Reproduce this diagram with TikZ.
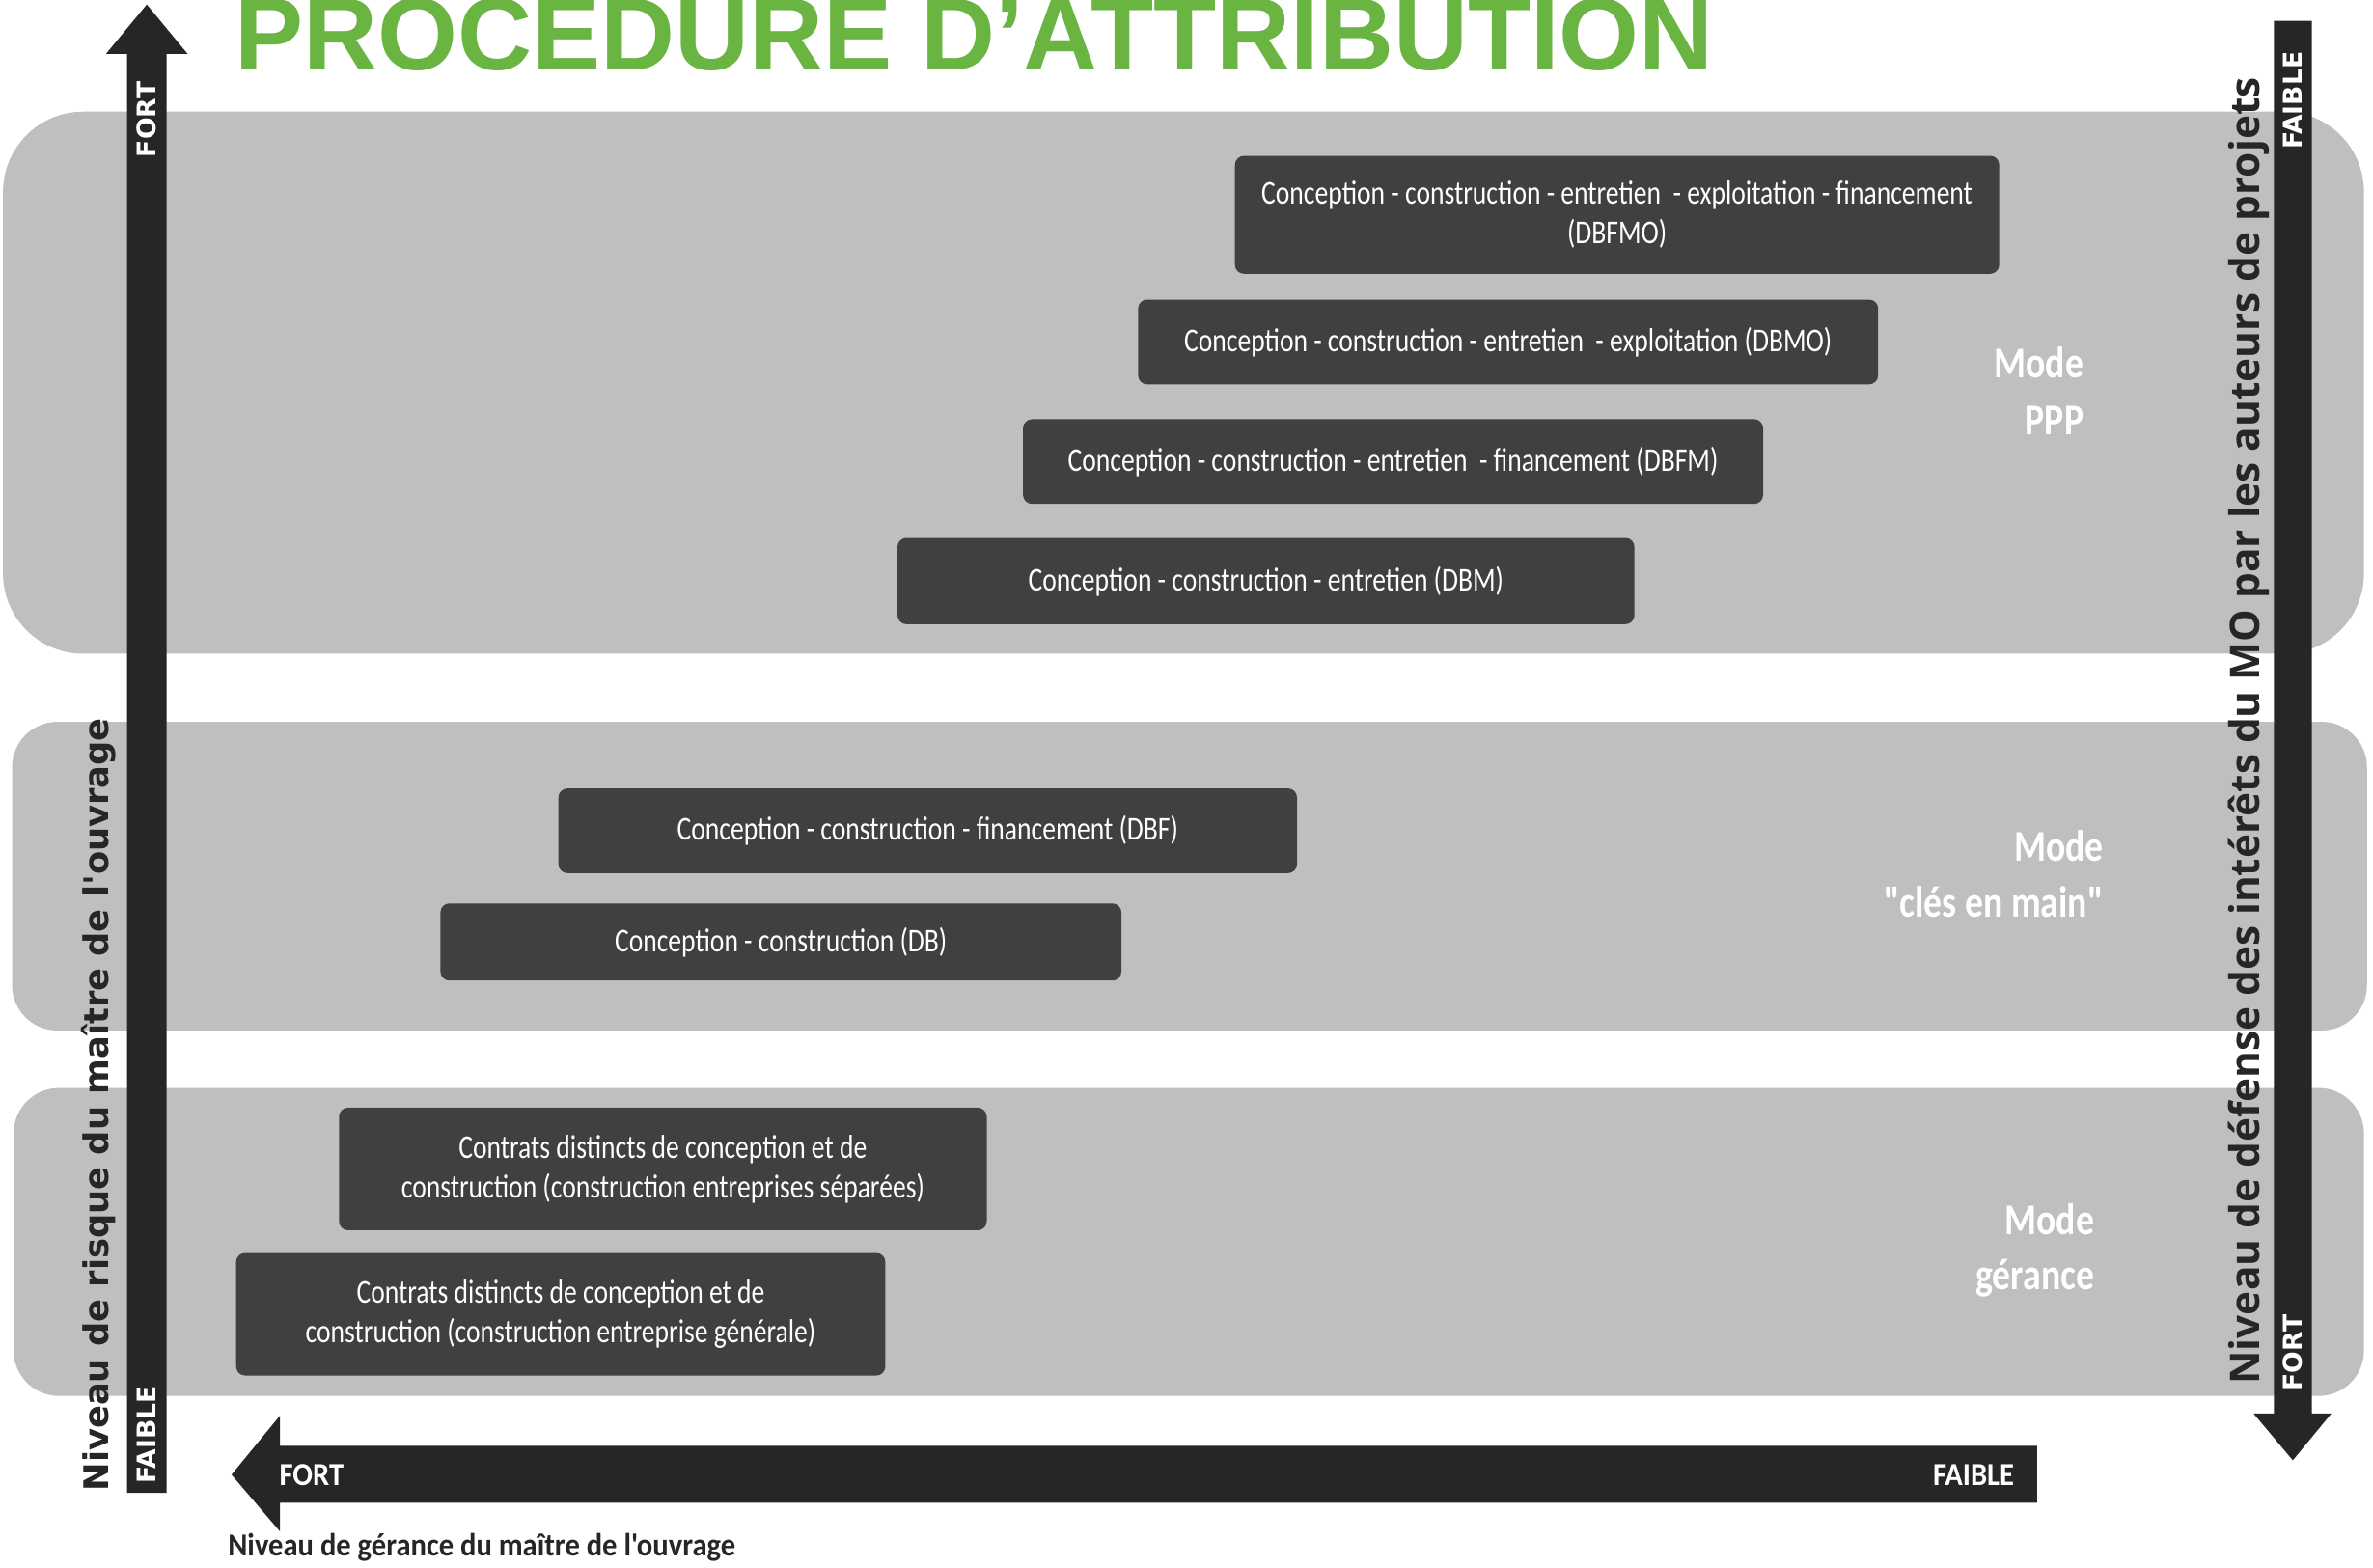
\documentclass[tikz,border=0pt]{standalone}
\usepackage{fontspec}
\newfontfamily\titlefont{Liberation Sans}
\newfontfamily\boxfont[FakeStretch=0.8]{Carlito}
\newfontfamily\modefont[FakeStretch=0.83]{Carlito}
\newfontfamily\axfont[FakeStretch=0.92,Ligatures=TeXOff]{Carlito}
\newfontfamily\vfont[WordSpace=2,Ligatures=TeXOff]{DejaVu Sans}
\newfontfamily\shaftfont{DejaVu Sans}
\newfontfamily\rfont{Open Sans}
\definecolor{bandc}{HTML}{BFBFBF}
\definecolor{boxc}{HTML}{404040}
\definecolor{arr}{HTML}{262626}
\definecolor{titleg}{RGB}{106,181,66}
\tikzset{
  band/.style={fill=bandc},
  bx/.style={fill=boxc, rounded corners=6pt, text=white, align=center, inner sep=0pt,
    font=\boxfont\fontsize{22}{26}\selectfont},
  shaftlbl/.style={text=white, rotate=90, inner sep=0pt,
    font=\shaftfont\bfseries\fontsize{17}{17}\selectfont},
  modelbl/.style={text=white, anchor=base east, inner sep=0pt,
    font=\modefont\bfseries\fontsize{29}{29}\selectfont},
  axlbl/.style={inner sep=0pt, font=\axfont\bfseries\fontsize{21.2}{21.2}\selectfont},
  arrowshape/.style={fill=arr},
}
\begin{document}
\begin{tikzpicture}[x=1pt,y=-1pt]
\useasboundingbox (0,0) rectangle (1568,1036);
% bands
\fill[band, rounded corners=53pt] (2,73.8) rectangle (1562,432);
\fill[band, rounded corners=30pt] (8,477) rectangle (1564,681);
\fill[band, rounded corners=30pt] (9,719) rectangle (1562,922.5);
% title
\node[anchor=base west, inner sep=0pt, text=titleg,
  font=\titlefont\bfseries\fontsize{68}{68}\selectfont] (title) at (155,46.5) {PROCEDURE D’ATTRIBUTION};
% arrows
\fill[arrowshape] (84,986.5) -- (84,35.7) -- (70,35.7) -- (97,3) -- (124,35.7) -- (110,35.7) -- (110,986.5) -- cycle;
\fill[arrowshape] (1502.5,13.8) -- (1527.5,13.8) -- (1527.5,934) -- (1540.5,934) -- (1515,965) -- (1489,934) -- (1502.5,934) -- cycle;
\fill[arrowshape] (1346,955.5) -- (1346,993) -- (185,993) -- (185,1012) -- (153,974.5) -- (185,935.5) -- (185,955.5) -- cycle;
% arrow labels
\node[shaftlbl] (lfort) at (96.5,79) {FORT};
\node[shaftlbl] (lfaible) at (96.5,948) {FAIBLE};
\node[shaftlbl] (rfaible) at (1515,66.5) {FAIBLE};
\node[shaftlbl] (rfort) at (1515,894) {FORT};
\node[axlbl, text=white, anchor=west] (bfort) at (184.5,974.5) {FORT};
\node[axlbl, text=white, anchor=east] (bfaible) at (1331,974.5) {FAIBLE};
\node[axlbl, text=arr, anchor=base west] (gerance) at (150.5,1028) {Niveau de gérance du maître de l'ouvrage};
\node[rotate=90, anchor=base, inner sep=0pt, text=arr,
  font=\vfont\bfseries\fontsize{22.5}{22.5}\selectfont] (risque) at (72,730) {Niveau de risque du maître de l'ouvrage};
\node[rotate=90, anchor=base, inner sep=0pt, text=arr,
  font=\rfont\bfseries\fontsize{27}{27}\selectfont] (defense) at (1493,483) {Niveau de défense des intérêts du MO par les auteurs de projets};
% boxes
\node[bx, minimum width=505pt, minimum height=78pt] (dbfmo) at (1068.5,142)
  {Conception - construction - entretien\ \ - exploitation - financement\\(DBFMO)};
\node[bx, minimum width=489pt, minimum height=56pt] (dbmo) at (996.5,226)
  {Conception - construction - entretien\ \ - exploitation (DBMO)};
\node[bx, minimum width=489pt, minimum height=56pt] (dbfm) at (920.5,305)
  {Conception - construction - entretien\ \ - financement (DBFM)};
\node[bx, minimum width=487pt, minimum height=57pt] (dbm) at (836.5,384)
  {Conception - construction - entretien (DBM)};
\node[bx, minimum width=488pt, minimum height=56pt] (dbf) at (613,549)
  {Conception - construction - financement (DBF)};
\node[bx, minimum width=450pt, minimum height=51pt] (db) at (516,622.5)
  {Conception - construction (DB)};
\node[bx, minimum width=428pt, minimum height=81pt] (sep) at (438,772.5)
  {Contrats distincts de conception et de\\construction (construction entreprises séparées)};
\node[bx, minimum width=429pt, minimum height=81pt] (gen) at (370.5,868.5)
  {Contrats distincts de conception et de\\construction (construction entreprise générale)};
% mode labels
\node[modelbl] (m1a) at (1377,249.8) {Mode};
\node[modelbl] (m1b) at (1377,287) {PPP};
\node[modelbl] (m2a) at (1390,569) {Mode};
\node[modelbl] (m2b) at (1390,606) {"clés en main"};
\node[modelbl] (m3a) at (1384,816) {Mode};
\node[modelbl] (m3b) at (1384,852) {gérance};
\end{tikzpicture}
\end{document}
